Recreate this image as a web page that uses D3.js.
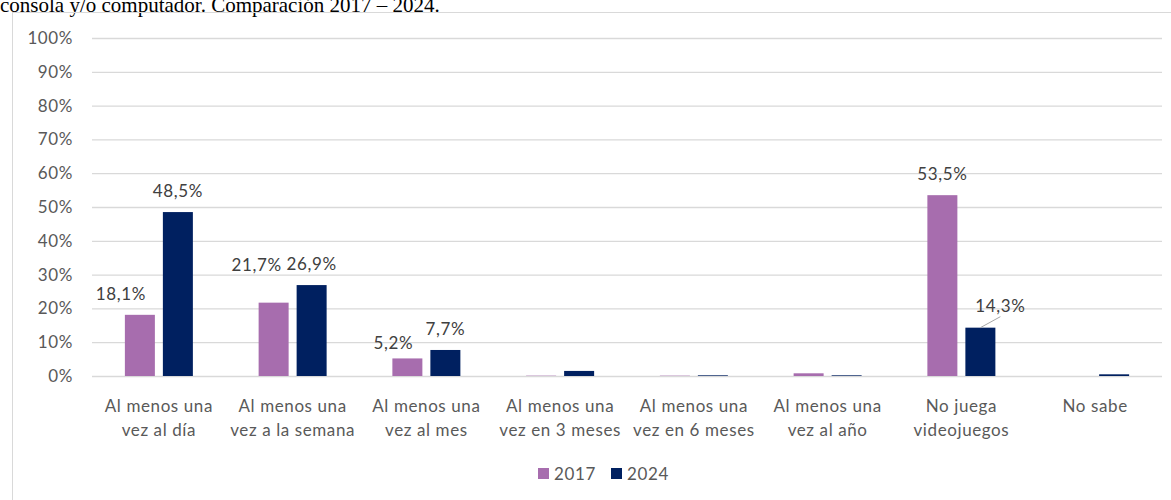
<!DOCTYPE html>
<html>
<head>
<meta charset="utf-8">
<script src="https://cdn.jsdelivr.net/npm/d3@7"></script>
<style>
  body { margin: 0; background: #fff; }
  svg { display: block; }
</style>
</head>
<body>
<div id="chart"></div>
<script>
// data
const categories = ["Al menos una|vez al día", "Al menos una|vez a la semana", "Al menos una|vez al mes",
    "Al menos una|vez en 3 meses", "Al menos una|vez en 6 meses", "Al menos una|vez al año",
    "No juega|videojuegos", "No sabe"];
const years = ["2017", "2024"];
const values2017 = [18.1, 21.7, 5.2, 0.1, 0.1, 0.8, 53.5, 0];
const values2024 = [48.5, 26.9, 7.7, 1.5, 0.2, 0.2, 14.3, 0.5];
const yTicks = [0, 10, 20, 30, 40, 50, 60, 70, 80, 90, 100];

const colors = { "2017": "#a76dae", "2024": "#002060" };
// manual nudges of some data labels (like in the original)
const labelNudge = { "2017-0": [-19, 0], "2017-1": [-17, -17], "2017-2": [-14, 6], "2024-6": [20, -1] };

const W = 1171, H = 500;
const margin = { top: 38, right: 9, bottom: 124, left: 92 };
const width = W - margin.left - margin.right;
const height = H - margin.top - margin.bottom;

const root = d3.select("#chart").append("svg")
    .attr("width", W).attr("height", H);

// title (cut off at the top, as in the source document)
root.append("text")
    .attr("x", 0).attr("y", 12)
    .style("font-family", "'Liberation Serif', 'Times New Roman', serif")
    .style("font-size", "21px")
    .attr("fill", "#000")
    .text("consola y/o computador. Comparación 2017 – 2024.");

// chart frame
root.append("rect")
    .attr("x", 12.5).attr("y", 12.5)
    .attr("width", 1200).attr("height", 600)
    .attr("fill", "none").attr("stroke", "#d9d9d9");

const svg = root.append("g")
    .attr("transform", `translate(${margin.left}, ${margin.top})`);

const data = categories.map((c, i) => ({ cat: c, i: i, "2017": values2017[i], "2024": values2024[i] }));

const x0 = d3.scaleBand().domain(categories).range([0, width]).padding(0);
const groupW = 68;
const x1 = d3.scaleBand().domain(years).range([0, groupW]).paddingInner(8 / 38).paddingOuter(0);
const y = d3.scaleLinear().domain([0, 100]).range([height, 0]);

const font = "Lato, 'Noto Sans', sans-serif";
const txt = sel => sel.style("font-family", font).style("font-size", "17px").style("letter-spacing", "0.6px");

// gridlines + y labels
const yAxis = d3.axisLeft(y).tickValues(yTicks).tickFormat(d => d + "%")
    .tickSize(-width).tickPadding(19);
const gy = svg.append("g").call(yAxis);
gy.select(".domain").remove();
gy.selectAll(".tick line").attr("stroke", "#d9d9d9").attr("stroke-width", 1.3);
gy.selectAll(".tick text").call(txt).attr("fill", "#595959");

// bars
const groups = svg.selectAll(".grp").data(data).enter().append("g")
    .attr("transform", d => `translate(${x0(d.cat) + x0.bandwidth() / 2 - groupW / 2},0)`);

groups.selectAll("rect").data(d => years.map(k => ({ key: k, value: d[k], i: d.i })))
    .enter().append("rect")
    .attr("x", d => x1(d.key))
    .attr("y", d => y(d.value))
    .attr("width", x1.bandwidth())
    .attr("height", d => height - y(d.value))
    .attr("fill", d => colors[d.key]);

// data labels
const fmt = v => d3.format(".1f")(v).replace(".", ",") + "%";
groups.selectAll(".lbl").data(d => years.map(k => ({ key: k, value: d[k], i: d.i })).filter(d => d.value >= 5))
    .enter().each(function (d) {
        const g = d3.select(this);
        const n = labelNudge[d.key + "-" + d.i] || [0, 0];
        const cx = x1(d.key) + x1.bandwidth() / 2;
        const ty = y(d.value) - 15 + n[1];
        if (d.key === "2024" && d.i === 6) {
            g.append("line")
                .attr("x1", cx).attr("y1", y(d.value))
                .attr("x2", cx + n[0]).attr("y2", y(d.value) - 11)
                .attr("stroke", "#a6a6a6").attr("stroke-width", 1);
        }
        g.append("text")
            .attr("x", cx + n[0]).attr("y", ty)
            .attr("text-anchor", "middle")
            .call(txt)
            .attr("fill", "#404040")
            .text(fmt(d.value));
    });

// category axis
const xAxis = d3.axisBottom(x0).tickSize(0).tickPadding(0).tickFormat("");
const gx = svg.append("g").attr("transform", `translate(0,${height})`).call(xAxis);
gx.select(".domain").remove();
gx.selectAll(".tick").append("text")
    .attr("text-anchor", "middle")
    .call(txt)
    .attr("fill", "#595959")
    .selectAll("tspan").data(d => d.split("|")).enter().append("tspan")
    .attr("x", 0)
    .attr("y", (d, i) => 36 + i * 24)
    .text(d => d);

// legend
const legend = root.append("g").attr("transform", "translate(538,468)");
years.forEach((k, i) => {
    const lg = legend.append("g").attr("transform", `translate(${i * 73},0)`);
    lg.append("rect").attr("width", 11).attr("height", 11).attr("fill", colors[k]);
    lg.append("text").attr("x", 16).attr("y", 11.5)
        .call(txt)
        .attr("fill", "#595959").text(k);
});
</script>
</body>
</html>
